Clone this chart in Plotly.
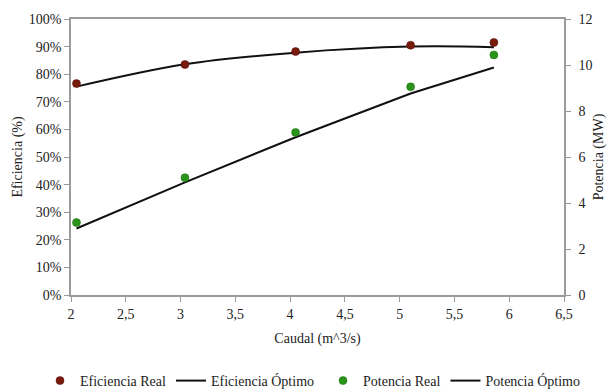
import plotly.graph_objects as go

caudal = [2.05, 3.04, 4.05, 5.10, 5.86]
ef_real = [0.766, 0.835, 0.882, 0.905, 0.915]
ef_opt = [0.755, 0.836, 0.878, 0.900, 0.898]
pot_real = [3.15, 5.10, 7.07, 9.05, 10.44]
pot_opt = [2.89, 4.90, 6.86, 8.76, 9.89]

FONT = "Liberation Serif"
W, H = 616, 389
fig = go.Figure()

fig.add_trace(go.Scatter(x=caudal, y=ef_opt, mode="lines", name="Eficiencia Óptimo",
                         line=dict(color="#111111", width=2, shape="spline"), legendrank=2,
                         legend="legend"))
fig.add_trace(go.Scatter(x=caudal, y=pot_opt, mode="lines", name="Potencia Óptimo", yaxis="y2",
                         line=dict(color="#111111", width=2), legendrank=4, legend="legend2"))
fig.add_trace(go.Scatter(x=caudal, y=ef_real, mode="markers", name="Eficiencia Real",
                         marker=dict(color="#7a1a0c", size=8, line=dict(color="#4a0c05", width=0.5)),
                         legendrank=1, legend="legend"))
fig.add_trace(go.Scatter(x=caudal, y=pot_real, mode="markers", name="Potencia Real", yaxis="y2",
                         marker=dict(color="#2a941a", size=8, line=dict(color="#1a6a10", width=0.5)),
                         legendrank=3, legend="legend2"))

axis_common = dict(showgrid=False, zeroline=False, showline=True, linecolor="#9a9a9a", linewidth=1.5,
                   ticks="outside", ticklen=5, tickcolor="#9a9a9a", automargin=True,
                   tickfont=dict(family=FONT, size=14, color="#222"))

leg_common = dict(orientation="h", xref="container", yref="container",
                  yanchor="middle", y=(H - 381) / H, xanchor="left",
                  font=dict(family=FONT, size=14, color="#222"), itemwidth=30,
                  traceorder="normal", bgcolor="rgba(0,0,0,0)")

fig.update_layout(
    width=W, height=H,
    margin=dict(l=71, r=46, t=18, b=94),
    paper_bgcolor="white", plot_bgcolor="white",
    separators=",.",
    font=dict(family=FONT, size=14, color="#222"),
    xaxis=dict(range=[2, 6.5], dtick=0.5, tick0=2, mirror=True,
               title=dict(text="Caudal (m^3/s)", font=dict(family=FONT, size=14), standoff=13),
               **axis_common),
    yaxis=dict(range=[0, 1], dtick=0.1, tickformat=".0%",
               title=dict(text="Eficiencia (%)", font=dict(family=FONT, size=14), standoff=3),
               **axis_common),
    yaxis2=dict(range=[0, 12], dtick=2, overlaying="y", side="right", ticklabelstandoff=5,
                title=dict(text="Potencia (MW)", font=dict(family=FONT, size=14), standoff=2),
                **axis_common),
    legend=dict(x=40 / W, **leg_common),
    legend2=dict(x=323 / W, **leg_common),
    showlegend=True,
)

fig.write_html("out.html", post_script="document.body.style.margin='0';",
               config={"displayModeBar": False})
